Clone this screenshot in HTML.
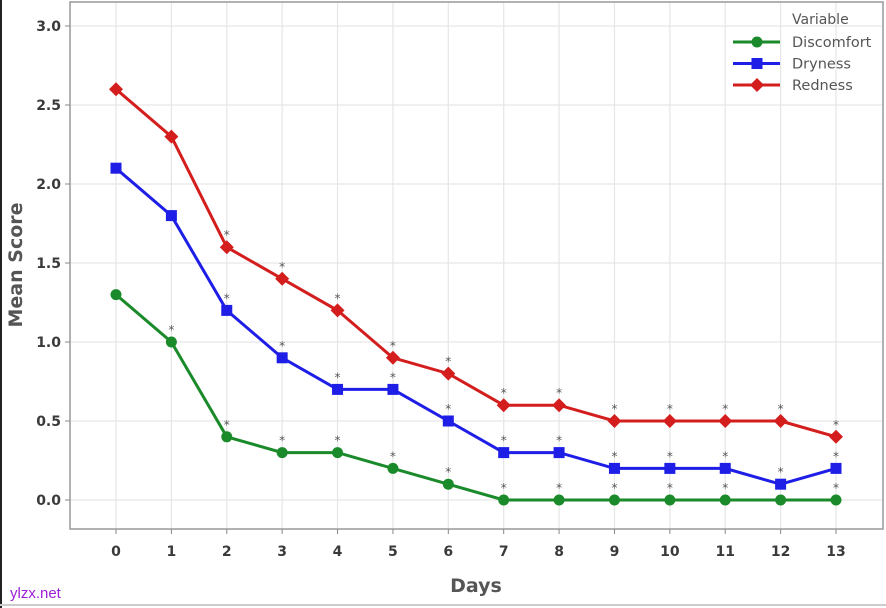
<!DOCTYPE html>
<html><head><meta charset="utf-8"><style>
html,body{margin:0;padding:0;background:#fff;width:886px;height:608px;overflow:hidden}
svg{display:block;font-family:"DejaVu Sans","Liberation Sans",sans-serif}
</style></head><body>
<svg id="s" width="886" height="608" xmlns="http://www.w3.org/2000/svg">
<rect x="0" y="0" width="2" height="608" fill="#222"/>
<rect x="0" y="604" width="886" height="2" fill="#ccc"/>
<text x="10" y="598" font-size="15" fill="#9b1fd6" font-family="Liberation Sans,sans-serif">ylzx.net</text>
</svg>
<script>
const s=document.getElementById('s');const NS='http://www.w3.org/2000/svg';
function el(t,a,txt){const e=document.createElementNS(NS,t);for(const k in a)e.setAttribute(k,a[k]);if(txt!==undefined)e.textContent=txt;s.appendChild(e);return e;}
const X=d=>116+d*55.385, Y=v=>500-v*158;
for(let d=0;d<=13;d++)el('line',{x1:X(d),x2:X(d),y1:3,y2:528,stroke:'#e6e6e6','stroke-width':1.2});
for(let i=0;i<=6;i++)el('line',{x1:71,x2:883,y1:Y(i/2),y2:Y(i/2),stroke:'#e6e6e6','stroke-width':1.2});
el('rect',{x:70,y:2,width:813,height:527,fill:'none',stroke:'#999','stroke-width':1.5});
for(let i=0;i<=6;i++){el('line',{x1:65,x2:70,y1:Y(i/2),y2:Y(i/2),stroke:'#888'});
el('text',{x:61,y:Y(i/2)+5,'font-size':14,fill:'#3a3a3a','font-weight':'bold','text-anchor':'end'},(i/2).toFixed(1));}
for(let d=0;d<=13;d++){el('line',{x1:X(d),x2:X(d),y1:529,y2:534,stroke:'#888'});
el('text',{x:X(d),y:556,'font-size':14,fill:'#3a3a3a','font-weight':'bold','text-anchor':'middle'},d);}
el('text',{x:476,y:592,'font-size':19,fill:'#555','font-weight':'bold','text-anchor':'middle'},'Days');
el('text',{x:22,y:265,'font-size':19,fill:'#555','font-weight':'bold','text-anchor':'middle',transform:'rotate(-90 22 265)'},'Mean Score');
const ser=[
{c:'#1a8a2a',m:'c',v:[1.3,1.0,0.4,0.3,0.3,0.2,0.1,0,0,0,0,0,0,0],st:1},
{c:'#1e1ee6',m:'s',v:[2.1,1.8,1.2,0.9,0.7,0.7,0.5,0.3,0.3,0.2,0.2,0.2,0.1,0.2],st:2},
{c:'#d41e1e',m:'d',v:[2.6,2.3,1.6,1.4,1.2,0.9,0.8,0.6,0.6,0.5,0.5,0.5,0.5,0.4],st:2}];
function mk(m,x,y,c){if(m==='c')el('circle',{cx:x,cy:y,r:5.5,fill:c});
else if(m==='s')el('rect',{x:x-5.5,y:y-5.5,width:11,height:11,fill:c});
else el('polygon',{points:`${x},${y-7} ${x+7},${y} ${x},${y+7} ${x-7},${y}`,fill:c});}
ser.forEach(o=>{el('polyline',{points:o.v.map((v,d)=>X(d)+','+Y(v)).join(' '),fill:'none',stroke:o.c,'stroke-width':3});
o.v.forEach((v,d)=>{mk(o.m,X(d),Y(v),o.c);if(d>=o.st)el('text',{x:X(d),y:Y(v)-8,'font-size':12,fill:'#555','text-anchor':'middle'},'*');});});
el('text',{x:792,y:24,'font-size':14,fill:'#555'},'Variable');
[['Discomfort',0],['Dryness',1],['Redness',2]].forEach(([n,i])=>{const y=42+i*21.5;
el('line',{x1:733,x2:780,y1:y,y2:y,stroke:ser[i].c,'stroke-width':3});mk(ser[i].m,757,y,ser[i].c);
el('text',{x:792,y:y+5,'font-size':14.5,fill:'#555'},n);});
</script>
</body></html>
